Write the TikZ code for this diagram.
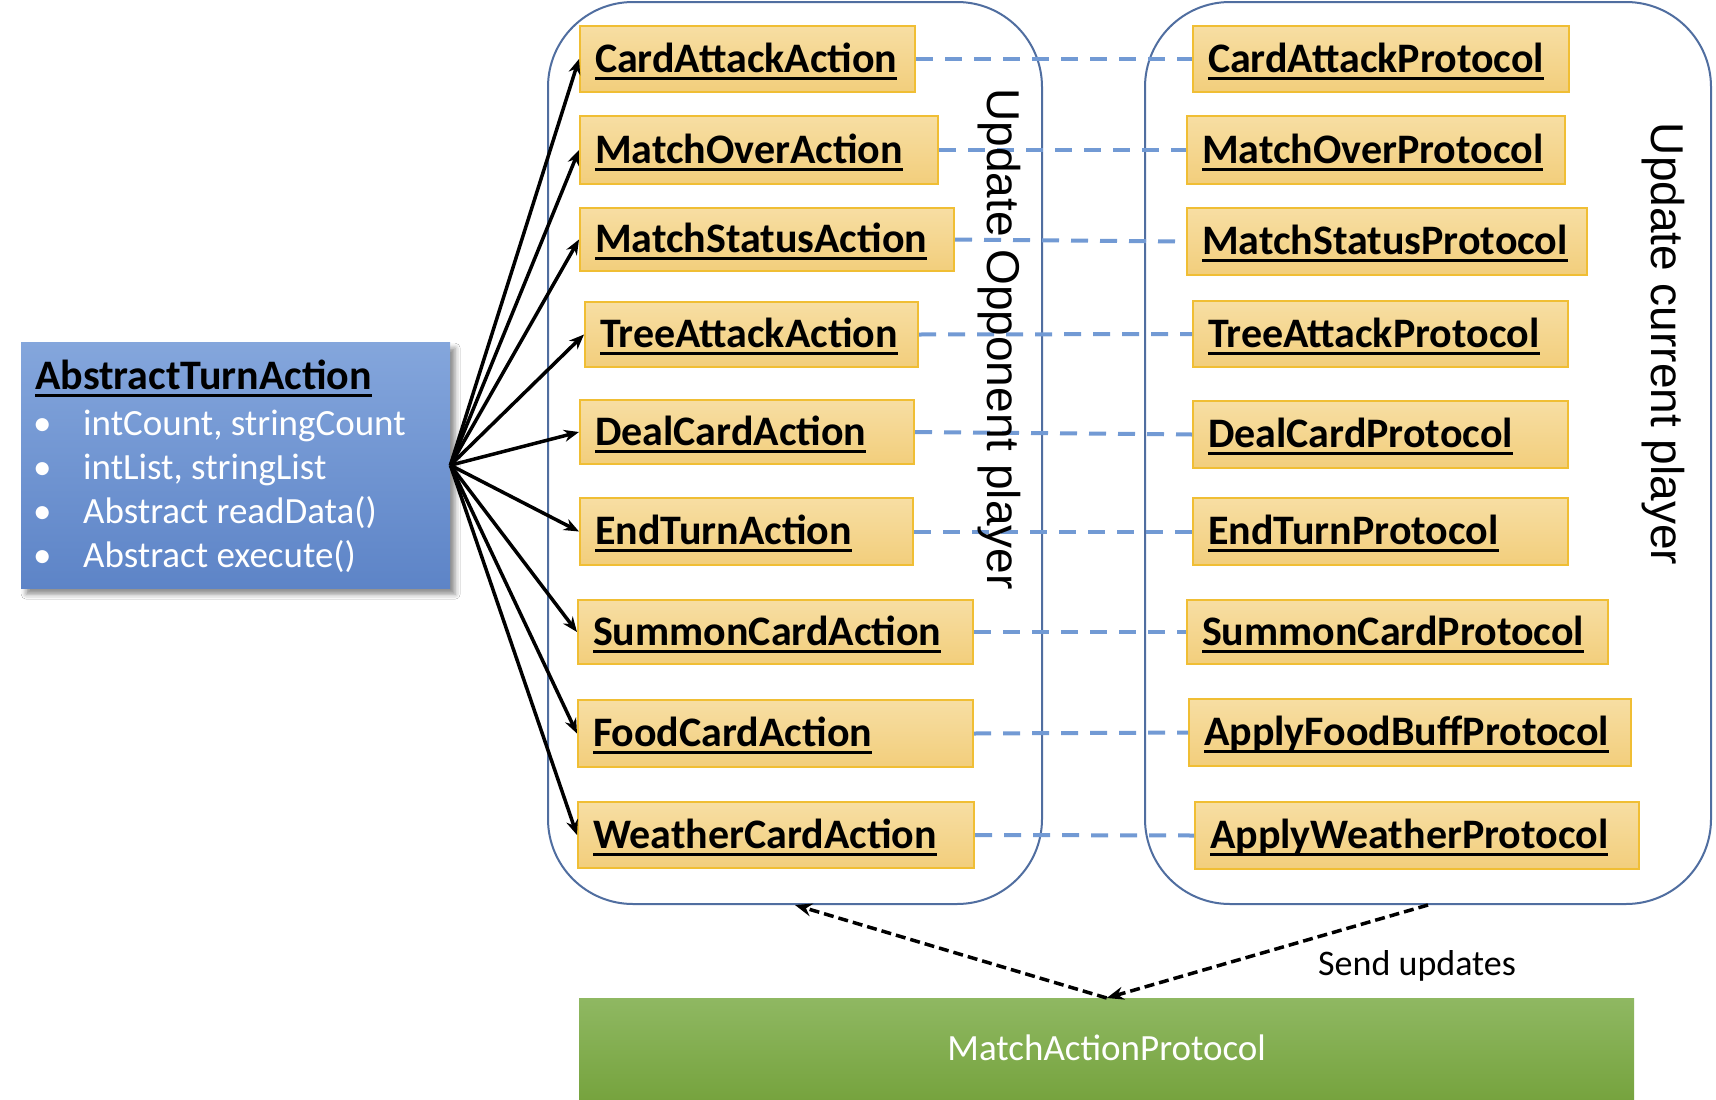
\documentclass[tikz,border=0pt]{standalone}
\usepackage{fontspec}
\setmainfont{Carlito}
\newfontfamily\arialf{Liberation Sans}
\usetikzlibrary{arrows.meta,shadows.blur}
\definecolor{ytop}{RGB}{247,222,163}
\definecolor{ybot}{RGB}{242,206,124}
\definecolor{ydraw}{RGB}{240,190,52}
\definecolor{btop}{RGB}{132,166,220}
\definecolor{bbot}{RGB}{93,132,199}
\definecolor{gtop}{RGB}{143,184,98}
\definecolor{gbot}{RGB}{118,163,62}
\definecolor{contc}{RGB}{80,110,160}
\definecolor{dashc}{RGB}{114,154,212}
\newcommand\ulbox[1]{\setbox0\hbox{#1}\rlap{\rule[-7.5pt]{\wd0}{3pt}}\box0}
\tikzset{
  ybox/.style={draw=ydraw, line width=2pt, top color=ytop, bottom color=ybot,
    anchor=north west, inner xsep=15pt, inner ysep=0pt, text height=26pt, text depth=0pt,
    font=\fontsize{42}{50}\selectfont\bfseries},
  cont/.style={draw=contc, line width=2pt, rounded corners=85pt, anchor=north west, inner sep=0pt},
  fan/.style={line width=3.5pt, -{Stealth[length=15pt,width=12pt]}},
  link/.style={draw=dashc, line width=4pt, dash pattern=on 17pt off 12pt},
  send/.style={line width=3.5pt, dash pattern=on 10pt off 5pt, -{Stealth[length=17pt,width=13pt]}},
  vtext/.style={rotate=-90, inner sep=0pt, font=\arialf\fontsize{46}{54}\selectfont},
  item/.style={anchor=base west, inner sep=0pt, text=white, font=\fontsize{37}{44}\selectfont},
}
\begin{document}
\begin{tikzpicture}[x=1pt,y=-1pt]
\useasboundingbox (0,0) rectangle (1716,1100);
\fill[white] (0,0) rectangle (1716,1100);

% containers
\node[cont, minimum width=494pt, minimum height=902pt] (L) at (547,1) {};
\node[cont, minimum width=566pt, minimum height=902pt] (R) at (1144,1) {};

% abstract class box
\node[anchor=north west, minimum width=429pt, minimum height=246pt, inner sep=0pt,
  top color=btop, bottom color=bbot,
  blur shadow={shadow xshift=5pt, shadow yshift=-6pt, shadow blur radius=5pt, shadow opacity=45}] (abs) at (21,342) {};
\node[anchor=base west, inner sep=0pt, font=\fontsize{42}{50}\selectfont\bfseries] (absT) at (35,389) {\ulbox{AbstractTurnAction}};
\node[item] (b1) at (33,435) {\textbullet};
\node[item] (b2) at (33,479) {\textbullet};
\node[item] (b3) at (33,523) {\textbullet};
\node[item] (b4) at (33,567) {\textbullet};
\node[item] (i1) at (83,435) {intCount, stringCount};
\node[item] (i2) at (83,479) {intList, stringList};
\node[item] (i3) at (83,523) {Abstract readData()};
\node[item] (i4) at (83,567) {Abstract execute()};

% action boxes
\node[ybox, minimum height=66pt] (A1) at (579,25)  {\makebox[305pt][l]{\ulbox{CardAttackAction}}};
\node[ybox, minimum height=68pt] (A2) at (579,115) {\makebox[328pt][l]{\ulbox{MatchOverAction}}};
\node[ybox, minimum height=63pt] (A3) at (579,207) {\makebox[344pt][l]{\ulbox{MatchStatusAction}}};
\node[ybox, minimum height=65pt] (A4) at (584,301) {\makebox[303pt][l]{\ulbox{TreeAttackAction}}};
\node[ybox, minimum height=64pt] (A5) at (579,399) {\makebox[304pt][l]{\ulbox{DealCardAction}}};
\node[ybox, minimum height=67pt] (A6) at (579,497) {\makebox[303pt][l]{\ulbox{EndTurnAction}}};
\node[ybox, minimum height=64pt] (A7) at (577,599) {\makebox[365pt][l]{\ulbox{SummonCardAction}}};
\node[ybox, minimum height=67pt] (A8) at (577,699) {\makebox[365pt][l]{\ulbox{FoodCardAction}}};
\node[ybox, minimum height=66pt] (A9) at (577,801) {\makebox[366pt][l]{\ulbox{WeatherCardAction}}};

% protocol boxes
\node[ybox, minimum height=66pt] (P1) at (1192,25)  {\makebox[346pt][l]{\ulbox{CardAttackProtocol}}};
\node[ybox, minimum height=68pt] (P2) at (1186,115) {\makebox[348pt][l]{\ulbox{MatchOverProtocol}}};
\node[ybox, minimum height=67pt] (P3) at (1186,207) {\makebox[370pt][l]{\ulbox{MatchStatusProtocol}}};
\node[ybox, minimum height=66pt] (P4) at (1192,300) {\makebox[345pt][l]{\ulbox{TreeAttackProtocol}}};
\node[ybox, minimum height=67pt] (P5) at (1192,400) {\makebox[345pt][l]{\ulbox{DealCardProtocol}}};
\node[ybox, minimum height=67pt] (P6) at (1192,497) {\makebox[345pt][l]{\ulbox{EndTurnProtocol}}};
\node[ybox, minimum height=64pt] (P7) at (1186,599) {\makebox[391pt][l]{\ulbox{SummonCardProtocol}}};
\node[ybox, minimum height=67pt] (P8) at (1188,698) {\makebox[412pt][l]{\ulbox{ApplyFoodBuffProtocol}}};
\node[ybox, minimum height=67pt] (P9) at (1194,801) {\makebox[414pt][l]{\ulbox{ApplyWeatherProtocol}}};

% green box
\node[anchor=north west, minimum width=1055pt, minimum height=102pt, inner sep=0pt,
  top color=gtop, bottom color=gbot, text=white, text height=23pt, text depth=0pt,
  font=\fontsize{37}{44}\selectfont] (G) at (579,998) {MatchActionProtocol};

% fan arrows
\foreach \t in {A1,A2,A3,A4,A5,A6,A7,A8,A9}
  \draw[fan] (abs.east) -- (\t.west);

% dashed links
\foreach \i in {1,...,9}
  \draw[link] (A\i.east) -- (P\i.west);

% vertical labels
\node[vtext] (vL) at (999,339) {Update Opponent player};
\node[vtext] (vR) at (1663,344) {Update current player};

% update arrows
\draw[send] (G.north) -- (L.south);
\draw[send] (R.south) -- (G.north);
\node[anchor=base west, inner sep=0pt, font=\fontsize{36}{43}\selectfont] (su) at (1318,975) {Send updates};
\end{tikzpicture}
\end{document}
